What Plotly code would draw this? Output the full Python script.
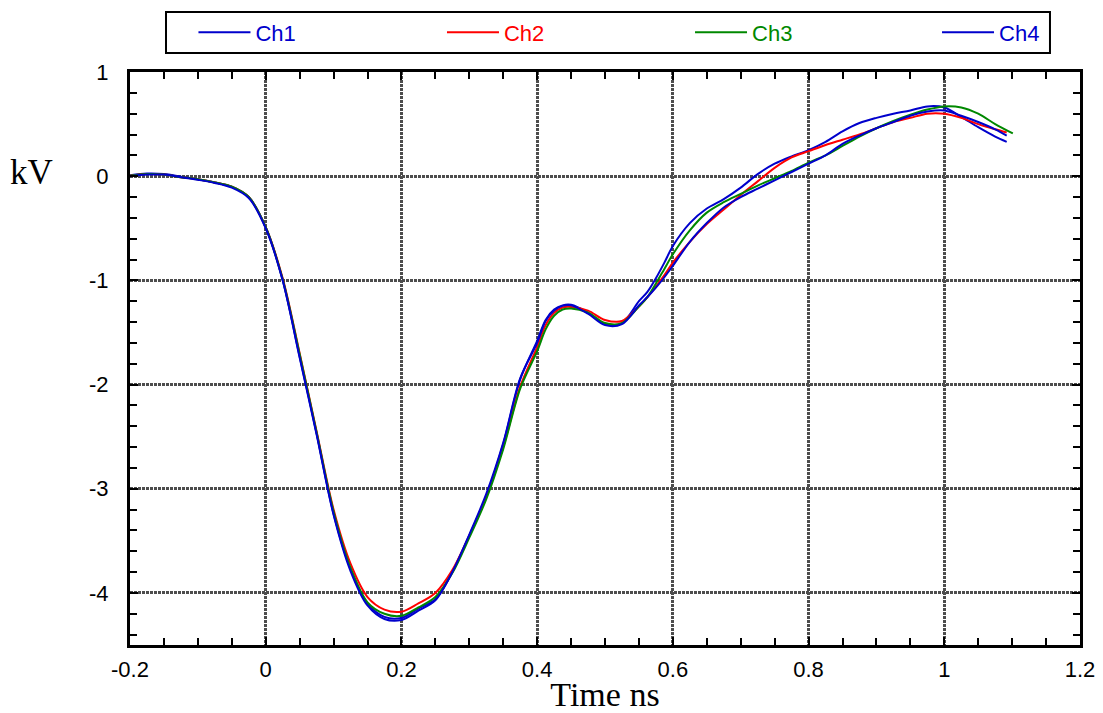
import plotly.graph_objects as go

# ---- data ----
time_ns = [-0.2, -0.175, -0.15, -0.125, -0.1, -0.075, -0.05, -0.025, 0.0, 0.025,
           0.05, 0.075, 0.1, 0.125, 0.15, 0.175, 0.2, 0.225, 0.25, 0.275,
           0.3, 0.325, 0.35, 0.375, 0.4, 0.4125, 0.425, 0.4375, 0.45, 0.475,
           0.5, 0.525, 0.55, 0.5625, 0.575, 0.5875, 0.6, 0.625, 0.65, 0.675,
           0.7, 0.725, 0.75, 0.775, 0.8, 0.825, 0.85, 0.875, 0.9, 0.925,
           0.95, 0.975, 1.0, 1.025, 1.05, 1.075]
end_time = [1.092, 1.092, 1.101, 1.092]

ch1 = [0.01, 0.025, 0.02, -0.005, -0.03, -0.06, -0.1, -0.2, -0.49, -1.0,
       -1.73, -2.47, -3.24, -3.77, -4.1, -4.23, -4.24, -4.15, -4.06, -3.8,
       -3.45, -3.07, -2.57, -1.95, -1.58, -1.38, -1.28, -1.24, -1.235, -1.31,
       -1.42, -1.41, -1.2, -1.11, -0.98, -0.83, -0.67, -0.45, -0.31, -0.22,
       -0.11, 0.02, 0.12, 0.19, 0.25, 0.33, 0.43, 0.51, 0.56, 0.6,
       0.63, 0.67, 0.66, 0.57, 0.47, 0.38, 0.33]
ch2 = [0.005, 0.02, 0.015, -0.01, -0.03, -0.06, -0.1, -0.2, -0.49, -0.98,
       -1.7, -2.45, -3.2, -3.72, -4.04, -4.16, -4.18, -4.1, -4.0, -3.78,
       -3.45, -3.08, -2.6, -2.02, -1.64, -1.43, -1.31, -1.26, -1.255, -1.29,
       -1.38, -1.39, -1.25, -1.16, -1.06, -0.95, -0.83, -0.63, -0.46, -0.32,
       -0.18, -0.05, 0.08, 0.18, 0.24, 0.3, 0.35, 0.4, 0.46, 0.52,
       0.56, 0.6, 0.6, 0.56, 0.5, 0.45, 0.42]
ch3 = [0.005, 0.02, 0.015, -0.01, -0.03, -0.06, -0.1, -0.2, -0.49, -0.99,
       -1.71, -2.46, -3.22, -3.76, -4.09, -4.2, -4.22, -4.14, -4.04, -3.81,
       -3.47, -3.1, -2.62, -2.04, -1.68, -1.47, -1.34, -1.28, -1.27, -1.31,
       -1.41, -1.41, -1.25, -1.16, -1.03, -0.89, -0.75, -0.52, -0.35, -0.25,
       -0.17, -0.09, -0.02, 0.05, 0.13, 0.2, 0.29, 0.38, 0.46, 0.53,
       0.59, 0.64, 0.67, 0.66, 0.6, 0.5, 0.41]
ch4 = [0.0, 0.015, 0.015, -0.01, -0.035, -0.065, -0.11, -0.21, -0.5, -1.0,
       -1.74, -2.48, -3.25, -3.79, -4.12, -4.25, -4.26, -4.17, -4.07, -3.8,
       -3.44, -3.05, -2.56, -1.94, -1.6, -1.39, -1.29, -1.245, -1.24, -1.32,
       -1.43, -1.42, -1.24, -1.16, -1.07, -0.97, -0.86, -0.63, -0.45, -0.3,
       -0.2, -0.12, -0.04, 0.04, 0.12, 0.2, 0.31, 0.39, 0.46, 0.52,
       0.58, 0.62, 0.63, 0.58, 0.52, 0.45, 0.39]

channel_names = ["Ch1", "Ch2", "Ch3", "Ch4"]
channel_colors = ["#0000cc", "#ff0000", "#008800", "#0000cc"]

x_tick_vals = [-0.2, 0, 0.2, 0.4, 0.6, 0.8, 1.0, 1.2]
x_tick_text = ["-0.2", "0", "0.2", "0.4", "0.6", "0.8", "1", "1.2"]
y_tick_vals = [-4, -3, -2, -1, 0, 1]
y_tick_text = ["-4", "-3", "-2", "-1", "0", "1"]

# ---- figure ----
sans = "Liberation Sans, Arial, Helvetica, sans-serif"
serif = "Liberation Serif, Times New Roman, serif"

legend_ids = ["legend", "legend2", "legend3", "legend4"]
legend_x = [0.0668, 0.3284, 0.5895, 0.8495]

fig = go.Figure()
for name, color, ys, t_end, lid in zip(channel_names, channel_colors,
                                       [ch1, ch2, ch3, ch4], end_time, legend_ids):
    fig.add_trace(go.Scatter(
        x=time_ns + [t_end], y=ys, mode="lines",
        name=f"<span style='color:{color}'>{name}</span>",
        line=dict(color=color, width=2, shape="spline", smoothing=0.9),
        legend=lid,
    ))

axis_common = dict(
    showline=True, linewidth=3, linecolor="black", mirror="ticks",
    ticks="inside", ticklen=8, tickwidth=1.5, tickcolor="black",
    showgrid=True, gridcolor="#4d4d4d", gridwidth=3, griddash="3px,1px",
    zeroline=False, tickfont=dict(family=sans, size=22, color="black"),
    tickmode="array", automargin=False,
)

fig.update_xaxes(
    **axis_common, range=[-0.2, 1.2],
    tickvals=x_tick_vals, ticktext=x_tick_text, ticklabelstandoff=3,
    minor=dict(tickmode="linear", tick0=0, dtick=0.05, ticks="inside",
               ticklen=7, tickcolor="black", tickwidth=1.5, showgrid=False),
    title=dict(text="Time ns", font=dict(family=serif, size=34, color="black"),
               standoff=0),
)
fig.update_yaxes(
    **axis_common, range=[-4.5, 1.0],
    tickvals=y_tick_vals, ticktext=y_tick_text, ticklabelstandoff=14,
    minor=dict(tickmode="linear", tick0=0, dtick=0.2, ticks="inside",
               ticklen=7, tickcolor="black", tickwidth=1.5, showgrid=False),
)

fig.add_annotation(
    text="kV", xref="paper", yref="y", x=-0.104, y=0.04,
    showarrow=False, xanchor="center", yanchor="middle",
    font=dict(family=serif, size=35, color="black"),
)

# frame around the legend row
fig.add_shape(type="rect", xref="paper", yref="paper",
              x0=0.0379, x1=0.9684, y0=1.0332, y1=1.1047,
              line=dict(color="black", width=2), fillcolor="rgba(0,0,0,0)")

legend_common = dict(
    orientation="h", xanchor="left", y=1.069, yanchor="middle",
    borderwidth=0, bgcolor="rgba(0,0,0,0)",
    font=dict(family=sans, size=22, color="black"), itemwidth=52,
)
# the page body adds an 8px margin, so the figure is 8px smaller than the window
fig.update_layout(
    width=1095, height=705,
    margin=dict(l=122, r=23, t=64, b=68, autoexpand=False),
    paper_bgcolor="white", plot_bgcolor="white",
    showlegend=True,
    **{lid: dict(legend_common, x=lx) for lid, lx in zip(legend_ids, legend_x)},
)

fig.write_html("out.html")
